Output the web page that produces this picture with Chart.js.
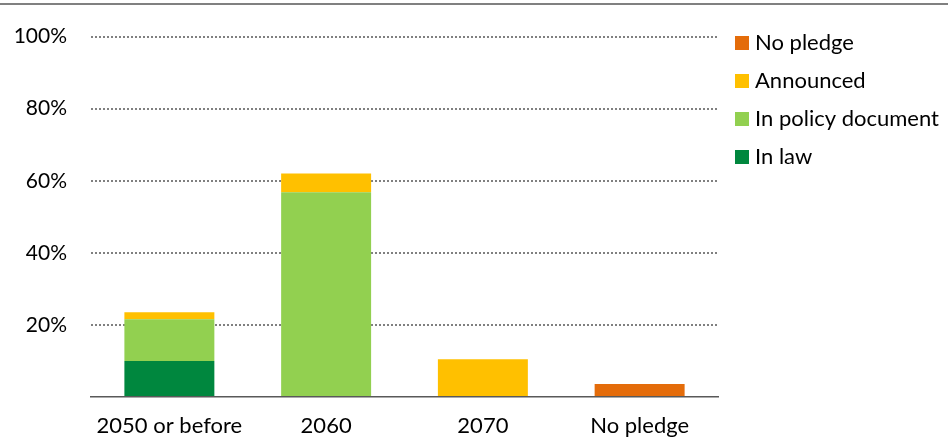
<!DOCTYPE html>
<html>
<head>
<meta charset="utf-8">
<script src="https://cdn.jsdelivr.net/npm/chart.js@4.4.1/dist/chart.umd.min.js"></script>
<style>
  html, body { margin: 0; padding: 0; background: #fff; }
  #wrap { width: 948px; height: 441px; }
</style>
</head>
<body>
<div id="wrap"><canvas id="myChart" width="948" height="441"></canvas></div>
<script>
// Data (share of ..., %)
const categories = ['2050 or before', '2060', '2070', 'No pledge'];
const inLaw = [10, 0, 0, 0];
const inPolicy = [11.6, 56.8, 0, 0];
const announced = [1.9, 5.2, 10.5, 0];
const noPledge = [0, 0, 0, 3.6];
const yTicks = [20, 40, 60, 80, 100];

const FONT = 'Lato';

// top rule and right-hand legend
const decor = {
    id: 'decor',
    afterDraw(chart) {
        const c = chart.ctx;
        c.save();
        c.fillStyle = '#808080';
        c.fillRect(0, 3, chart.width, 2);

        const sets = chart.data.datasets.slice().reverse();
        c.font = '22px ' + FONT;
        c.textBaseline = 'middle';
        c.textAlign = 'left';
        sets.forEach(function (ds, i) {
            const y = 43 + i * 38;
            c.fillStyle = ds.backgroundColor;
            c.fillRect(735, y - 7, 14, 14);
            c.fillStyle = '#000';
            c.fillText(ds.label, 755, y);
        });
        c.restore();
    }
};

const ctx = document.getElementById('myChart').getContext('2d');

const data = {
    labels: categories,
    datasets: [
        { label: 'In law', data: inLaw, backgroundColor: '#00873E' },
        { label: 'In policy document', data: inPolicy, backgroundColor: '#92D050' },
        { label: 'Announced', data: announced, backgroundColor: '#FFC000' },
        { label: 'No pledge', data: noPledge, backgroundColor: '#E46C0A' }
    ]
};

const config = {
    type: 'bar',
    data: data,
    options: {
        responsive: false,
        animation: false,
        layout: { padding: { left: 0, top: 36, right: 230, bottom: 0 } },
        datasets: {
            bar: { categoryPercentage: 1, barPercentage: 0.574, borderWidth: 0 }
        },
        plugins: {
            legend: { display: false },
            tooltip: { enabled: false },
            title: { display: false }
        },
        scales: {
            x: {
                stacked: true,
                afterFit: function (s) { s.height = 44; },
                grid: { display: false, drawTicks: false },
                border: { display: true, color: '#595959', width: 1.5 },
                ticks: { color: '#000', font: { family: FONT, size: 22 }, padding: 16, maxRotation: 0 }
            },
            y: {
                stacked: true,
                min: 0,
                max: 100,
                afterFit: function (s) { s.width = 91; },
                afterBuildTicks: function (s) {
                    s.ticks = [0].concat(yTicks).map(function (v) { return { value: v }; });
                },
                border: { display: false, dash: [2, 2] },
                grid: {
                    drawTicks: false,
                    lineWidth: 2,
                    color: function (c) { return c.tick && c.tick.value === 0 ? 'rgba(0,0,0,0)' : '#808080'; }
                },
                ticks: {
                    color: '#000',
                    font: { family: FONT, size: 21 },
                    padding: 24,
                    callback: function (v) { return v === 0 ? '' : v + '%'; }
                }
            }
        }
    },
    plugins: [decor]
};

const myChart = new Chart(ctx, config);
</script>
</body>
</html>
